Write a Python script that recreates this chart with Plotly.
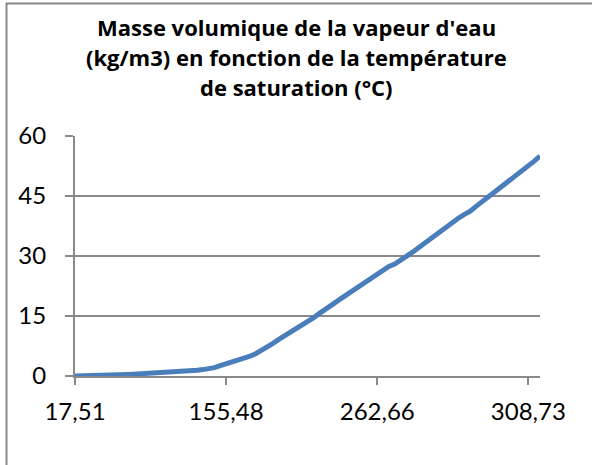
import plotly.graph_objects as go

# Saturation temperature (°C) – categories of the x axis
temperatures = [
    "17,51", "24,08", "28,96", "32,88", "36,16", "39,00", "41,51", "43,76", "45,81",
    "60,06", "69,10", "75,87", "81,33", "85,94", "89,95", "93,50", "96,71", "99,63",
    "111,37", "120,23", "127,43", "133,54", "138,87", "143,62", "147,92", "151,85", "155,48",
    "158,85", "161,99", "164,97", "167,78", "170,43", "175,38",
    "184,09", "191,64", "198,32", "204,31", "209,79", "214,85", "219,55", "223,95",
    "228,09", "232,00", "235,70", "239,20", "242,56", "245,80", "248,80", "251,80",
    "254,70", "257,44", "260,10", "262,66",
    "263,94", "266,40", "268,80", "271,10", "273,40", "275,59", "277,70", "279,80",
    "281,80", "283,80", "285,83", "287,70", "289,60", "291,40", "293,20", "294,97",
    "296,70", "298,30", "300,00", "301,60", "303,35", "304,90", "306,40", "307,20",
    "307,90", "308,73", "309,50", "311,00",
]

# Density of saturated steam (kg/m3)
densities = [
    0.02, 0.03, 0.05, 0.07, 0.10, 0.14, 0.19, 0.25, 0.32,
    0.38, 0.45, 0.52, 0.58, 0.65, 0.72, 0.80, 0.88, 0.97,
    1.07, 1.18, 1.30, 1.44, 1.60, 1.80, 2.10, 2.60, 3.00,
    3.40, 3.90, 4.40, 4.90, 5.50, 6.30,
    7.10, 8.10, 9.10, 10.00, 10.80, 11.60, 12.60, 13.50,
    14.50, 15.60, 16.70, 17.70, 18.60, 19.60, 20.60, 21.60,
    22.60, 23.60, 24.60, 25.60,
    26.70, 27.40, 28.00, 28.80, 29.90, 30.90, 32.00, 33.10,
    34.10, 35.20, 36.30, 37.40, 38.40, 39.50, 40.40, 41.20,
    42.40, 43.50, 44.60, 45.80, 46.90, 48.00, 49.20, 50.30,
    51.40, 52.60, 53.70, 55.00,
]

shown_ticks = ["17,51", "155,48", "262,66", "308,73"]
y_ticks = [0, 15, 30, 45, 60]
title_lines = [
    "Masse volumique de la vapeur d'eau",
    "(kg/m3) en fonction de la température",
    "de saturation (°C)",
]

W, H = 592, 465
L, R, T, B = 75, 52, 136, 89
pw, ph = W - L - R, H - T - B


def px_x(px):
    return (px - L) / pw


def px_y(py):
    return (H - B - py) / ph


GRAY = "#898989"
FONT = "Lato"
TITLE_FONT = "Open Sans"

fig = go.Figure()
fig.add_trace(go.Scatter(
    x=temperatures, y=densities, mode="lines",
    line=dict(color="#4A7EBB", width=5),
    hoverinfo="x+y", showlegend=False,
))

for txt, py in zip(title_lines, [27, 57, 87]):
    fig.add_annotation(
        text="<b>" + txt + "</b>", xref="paper", yref="paper",
        x=px_x(296), y=px_y(py), xanchor="center", yanchor="middle",
        showarrow=False, font=dict(family=TITLE_FONT, size=22, color="black"),
    )

# chart-area border (only left and top edges fall inside the picture)
fig.add_shape(type="rect", xref="paper", yref="paper",
              x0=px_x(6.5), x1=px_x(W + 10), y0=px_y(H + 10), y1=px_y(3.5),
              line=dict(color=GRAY, width=2), fillcolor="rgba(0,0,0,0)",
              layer="above")

fig.update_layout(
    width=W, height=H,
    margin=dict(l=L, r=R, t=T, b=B),
    paper_bgcolor="white", plot_bgcolor="white",
    font=dict(family=FONT, color="black"),
    xaxis=dict(
        type="category", categoryorder="array", categoryarray=temperatures,
        range=[0, len(temperatures) - 1],
        tickmode="array", tickvals=shown_ticks, ticktext=shown_ticks,
        ticks="outside", ticklen=7, tickcolor=GRAY, tickwidth=1.5,
        showline=True, linecolor=GRAY, linewidth=2,
        showgrid=False, zeroline=False,
        tickfont=dict(family=FONT, size=24, color="black"),
        ticklabelstandoff=6,
    ),
    yaxis=dict(
        range=[0, 60], tickmode="array", tickvals=y_ticks,
        ticks="outside", ticklen=8, tickcolor=GRAY, tickwidth=1.5,
        showline=True, linecolor=GRAY, linewidth=2,
        showgrid=True, gridcolor=GRAY, gridwidth=1.5,
        zeroline=False,
        tickfont=dict(family=FONT, size=24, color="black"),
        ticklabelstandoff=14,
    ),
)

fig.write_html(
    "out.html",
    config={"displayModeBar": False},
    post_script="document.body.style.margin='0px';document.body.style.overflow='hidden';",
)
